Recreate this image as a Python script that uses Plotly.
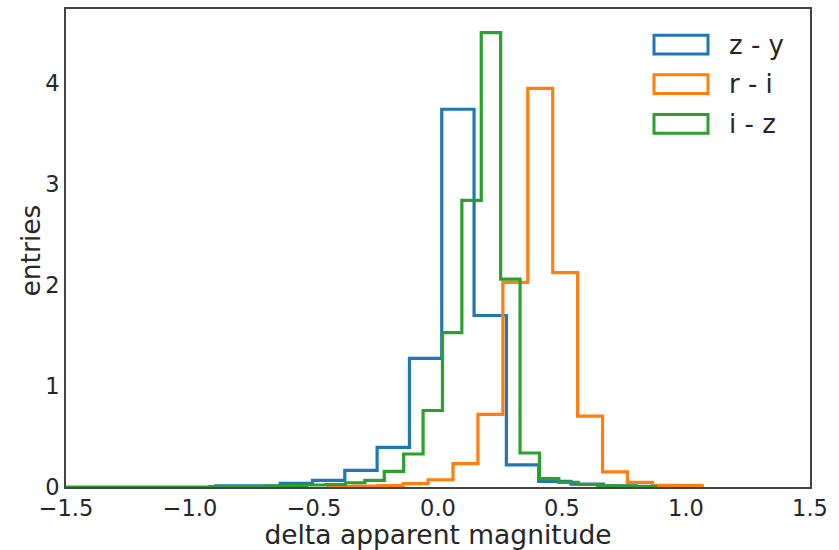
import plotly.graph_objects as go

# ---- data (density histograms) ----
labels = ["z - y", "r - i", "i - z"]
colors = ["#1f77b4", "#ff7f0e", "#2ca02c"]

# z - y
zy_start = -0.897
zy_width = 0.1303
zy_heights = [0.012, 0.012, 0.035, 0.065, 0.165, 0.392, 1.275, 3.742,
              1.699, 0.219, 0.056, 0.028, 0.012, 0.006]

# r - i
ri_start = -0.442
ri_width = 0.1005
ri_heights = [0.004, 0.010, 0.015, 0.033, 0.072, 0.232, 0.719, 2.026,
              3.948, 2.124, 0.703, 0.150, 0.045, 0.017, 0.015]

# i - z
iz_start = -1.546
iz_width = 0.0782
iz_heights = [0.0] * 8 + [0.003, 0.004, 0.005, 0.010, 0.015, 0.020,
              0.025, 0.042, 0.065, 0.154, 0.327, 0.758, 1.529, 2.840,
              4.500, 2.059, 0.337, 0.082, 0.045, 0.025, 0.012, 0.008, 0.004]

x_ticks = [-1.5, -1.0, -0.5, 0.0, 0.5, 1.0, 1.5]
y_ticks = [0, 1, 2, 3, 4]

series = [(zy_start, zy_width, zy_heights),
          (ri_start, ri_width, ri_heights),
          (iz_start, iz_width, iz_heights)]

fig = go.Figure()
for (start, width, heights), name, col in zip(series, labels, colors):
    n = len(heights)
    edges = [start + i * width for i in range(n + 1)]
    xs = [edges[0]] + edges[:n] + [edges[n]]
    ys = [0.0] + list(heights) + [0.0]
    fig.add_trace(go.Scatter(x=xs, y=ys, mode="lines", line_shape="hv",
                             line=dict(color=col, width=3.2), name=name,
                             showlegend=False, cliponaxis=True))

# custom legend (rectangle patches + text)
L, R, T, B = 66, 810, 7, 490
W, H = R - L, B - T
def px(x):
    return (x - L) / W
def py(y):
    return (B - y) / H

shapes = []
annotations = []
for k, (name, col) in enumerate(zip(labels, colors)):
    top = 33.5 + 40 * k
    shapes.append(dict(type="rect", xref="paper", yref="paper",
                       x0=px(654), x1=px(708), y0=py(top + 19), y1=py(top),
                       line=dict(color=col, width=3), fillcolor="rgba(0,0,0,0)"))
    annotations.append(dict(xref="paper", yref="paper", x=px(727), y=py(top + 9.5),
                            text=name, showarrow=False, xanchor="left", yanchor="middle",
                            font=dict(size=26, color="#262626")))

# y-axis title as annotation for exact placement
annotations.append(dict(xref="paper", yref="paper", x=px(30), y=py(251),
                        text="entries", showarrow=False, textangle=-90,
                        xanchor="center", yanchor="middle",
                        font=dict(size=26.5, color="#262626")))

fig.update_layout(
    width=839, height=550,
    margin=dict(l=L, r=839 - R, t=T, b=550 - B),
    paper_bgcolor="white", plot_bgcolor="white",
    font=dict(family="DejaVu Sans", color="#262626"),
    shapes=shapes, annotations=annotations,
    showlegend=False,
)
fig.update_xaxes(range=[-1.5, 1.5], tickvals=x_ticks,
                 ticktext=[("\u2212" if v < 0 else "") + f"{abs(v):.1f}" for v in x_ticks],
                 showgrid=False, zeroline=False, ticks="",
                 showline=True, linecolor="#444444", linewidth=1.6, mirror=True,
                 tickfont=dict(size=22.5, color="#262626"),
                 title=dict(text="delta apparent magnitude", font=dict(size=26.5, color="#262626"),
                            standoff=4))
fig.update_yaxes(range=[0, 4.735], tickvals=y_ticks, ticktext=[str(v) for v in y_ticks],
                 showgrid=False, zeroline=False, ticks="",
                 showline=True, linecolor="#444444", linewidth=1.6, mirror=True,
                 tickfont=dict(size=22.5, color="#262626"))

fig.write_html("out.html")
